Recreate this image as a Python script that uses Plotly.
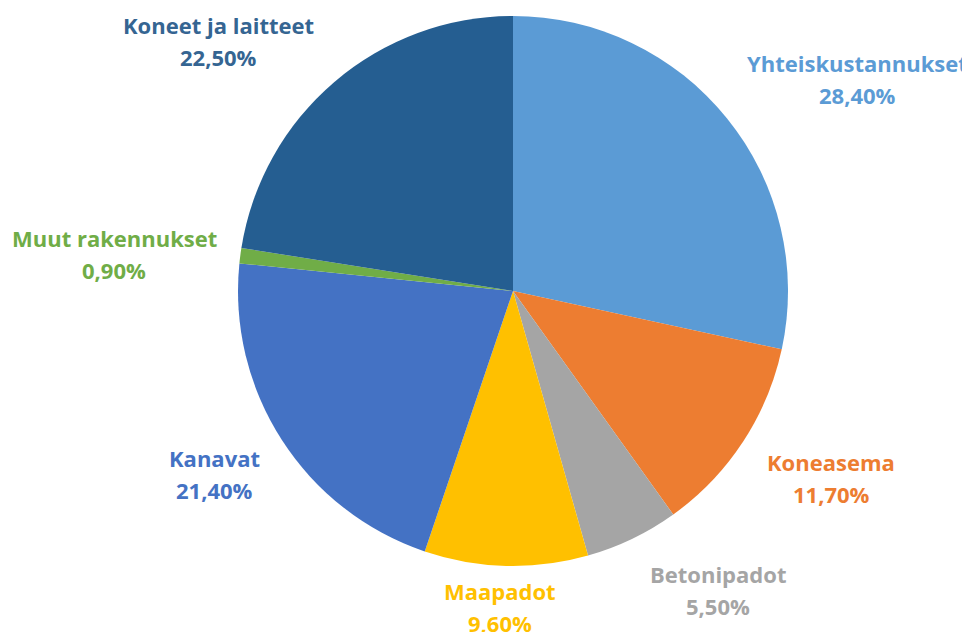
import plotly.graph_objects as go

categories = ["Yhteiskustannukset", "Koneasema", "Betonipadot", "Maapadot",
              "Kanavat", "Muut rakennukset", "Koneet ja laitteet"]
shares = [28.4, 11.7, 5.5, 9.6, 21.4, 0.9, 22.5]
colors = ["#5B9BD5", "#ED7D31", "#A5A5A5", "#FFC000",
          "#4472C4", "#70AD47", "#255E91"]
label_colors = ["#5B9BD5", "#ED7D31", "#A5A5A5", "#FFC000",
                "#4472C4", "#70AD47", "#356592"]

W, H = 970, 632
OFF = 8  # page body margin offset
# label centres (pixels in the final page) for each category: (x, y of first line)
label_pos = [(857, 63), (831, 462), (718, 574), (500, 591),
             (214, 458), (114, 238), (218, 25)]
line_gap = 32


def px_x(x):
    return (x - OFF) / W


def px_y(y):
    return 1 - (y - OFF) / H


fig = go.Figure(go.Pie(
    labels=categories,
    values=shares,
    sort=False,
    direction="clockwise",
    rotation=0,
    marker=dict(colors=colors, line=dict(width=0)),
    textinfo="none",
    hoverinfo="label+percent",
    domain=dict(x=[px_x(238), px_x(788)], y=[px_y(566), px_y(16)]),
    showlegend=False,
))

annotations = []
for name, val, col, (px, py) in zip(categories, shares, label_colors, label_pos):
    pct = f"{val:.2f}".replace(".", ",") + "%"
    for i, txt in enumerate([name, pct]):
        annotations.append(dict(
            x=px_x(px), y=px_y(py + i * line_gap),
            xref="paper", yref="paper",
            xanchor="center", yanchor="middle",
            text=f"<b>{txt}</b>", showarrow=False,
            font=dict(family="Open Sans", size=22, color=col),
        ))

fig.update_layout(
    width=W, height=H,
    margin=dict(l=0, r=0, t=0, b=0),
    paper_bgcolor="white",
    plot_bgcolor="white",
    annotations=annotations,
)

fig.write_html("out.html")
